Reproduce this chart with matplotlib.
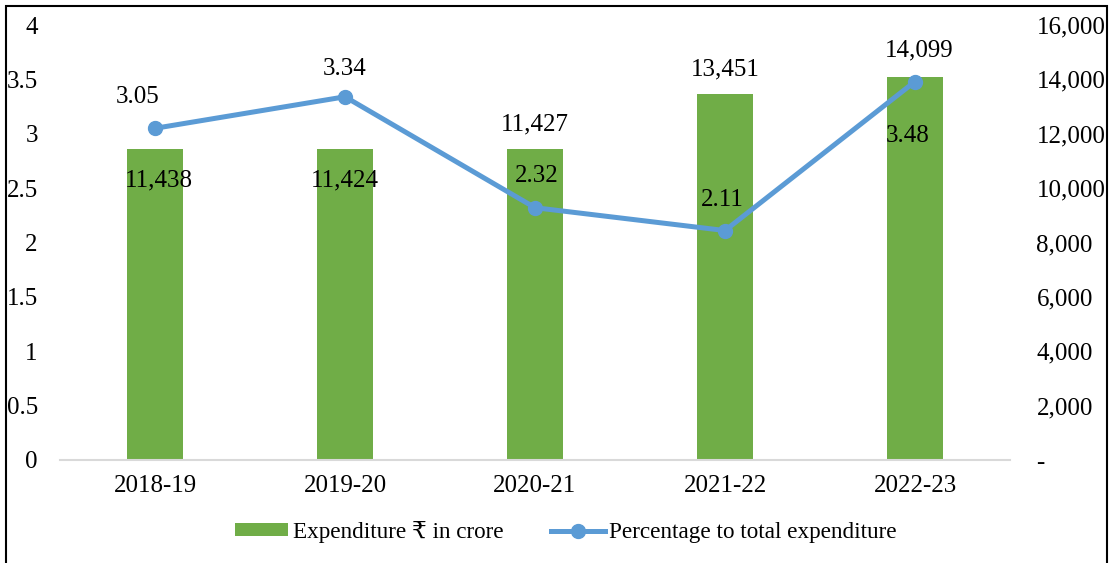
import matplotlib.pyplot as plt
from matplotlib.patches import Rectangle
from matplotlib.ticker import FuncFormatter

years = ['2018-19', '2019-20', '2020-21', '2021-22', '2022-23']
expenditure = [11438, 11424, 11427, 13451, 14099]
percentage = [3.05, 3.34, 2.32, 2.11, 3.48]

# label offsets in pixels (dx, dy)
bar_label_offsets = [(4, -31), (0, -31), (0, 25), (0, 25), (4, 26)]
line_label_offsets = [(-17, 31), (0, 28), (2, 32), (-3, 31), (-7, -54)]

bar_color = '#70AD47'
line_color = '#5B9BD5'

plt.rcParams['font.family'] = ['Liberation Serif', 'DejaVu Serif', 'DejaVu Sans']
plt.rcParams['font.size'] = 18

W, H = 1113, 563
fig = plt.figure(figsize=(W / 100, H / 100), dpi=100)

# outer border
fig.patches.append(Rectangle((6 / W, -0.1), (1107 - 6) / W, 1.1 - 6 / H,
                             transform=fig.transFigure, fill=False,
                             edgecolor='black', linewidth=1.5))

ax = fig.add_axes([60 / W, 1 - 460 / H, 950 / W, 435 / H])
x = list(range(len(years)))
ax.bar(x, expenditure, width=0.29, color=bar_color,
       label='Expenditure ₹ in crore', zorder=2)
ax.set_ylim(0, 16000)
ax.set_xlim(-0.5, len(years) - 0.5)
ax.set_xticks(x)
ax.set_xticklabels(years)
ax.tick_params(axis='x', length=0, pad=11)
for s in ['top', 'left', 'right']:
    ax.spines[s].set_visible(False)
ax.spines['bottom'].set_color('#D9D9D9')
ax.spines['bottom'].set_linewidth(1.5)
for i, v in enumerate(expenditure):
    dx, dy = bar_label_offsets[i]
    ax.annotate(f'{v:,}', (i, v), xytext=(dx, dy), textcoords='offset pixels',
                ha='center', va='center', fontsize=18)

ax2 = ax.twinx()
ax2.plot(x, percentage, color=line_color, linewidth=3.6, marker='o',
         markersize=10, label='Percentage to total expenditure')
ax2.set_ylim(0, 4)
ax2.yaxis.tick_left()
ax2.set_yticks([0, 0.5, 1, 1.5, 2, 2.5, 3, 3.5, 4])
ax2.set_yticklabels(['0', '0.5', '1', '1.5', '2', '2.5', '3', '3.5', '4'])
ax2.tick_params(axis='y', length=0, pad=16)
for s in ax2.spines.values():
    s.set_visible(False)
for i, v in enumerate(percentage):
    dx, dy = line_label_offsets[i]
    ax2.annotate(f'{v:.2f}', (i, v), xytext=(dx, dy), textcoords='offset pixels',
                 ha='center', va='center', fontsize=18)

# right axis (expenditure) set after twinx, which moves ax ticks to the left
ax.yaxis.tick_right()
ax.set_yticks(range(0, 16001, 2000))
ax.yaxis.set_major_formatter(FuncFormatter(lambda v, p: '-' if v == 0 else f'{int(v):,}'))
ax.tick_params(axis='y', length=0, pad=19)

h1, l1 = ax.get_legend_handles_labels()
h2, l2 = ax2.get_legend_handles_labels()
fig.legend(h1 + h2, l1 + l2, loc='center', bbox_to_anchor=(0.5085, 1 - 532 / H),
           ncol=2, frameon=False, handlelength=2.3, handleheight=0.45,
           handletextpad=0.2, columnspacing=2.05, fontsize=16.7)

fig.savefig('out.png', dpi=100)
